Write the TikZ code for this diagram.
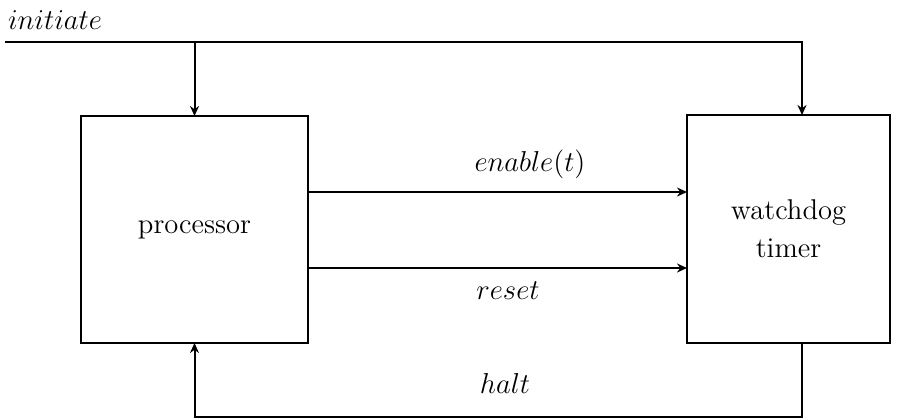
\documentclass[tikz,border=0pt]{standalone}
\usetikzlibrary{arrows.meta,calc}
\begin{document}
\begin{tikzpicture}[x=0.5pt,y=-0.5pt,
  line width=1pt,
  box/.style={draw,rectangle,inner sep=0pt,outer sep=0pt,align=center,font=\fontsize{14.3}{19}\selectfont},
  arr/.style={-{Stealth[length=5pt,width=4.5pt]}},
  lbl/.style={inner sep=0pt,font=\fontsize{14.3}{19}\selectfont}]
\useasboundingbox (0,0) rectangle (912,419);
\node[box,minimum width=113.5pt,minimum height=113.5pt] (proc) at (194.5,229.5) {processor};
\node[box,minimum width=101.5pt,minimum height=114pt] (wd) at (788.5,229) {watchdog\\timer};
\coordinate (i0) at (5,42);
\coordinate (wdin) at (802,115);
\coordinate (wdout) at (802,343);
\coordinate (hb) at (802,417);
\draw[arr] (i0) -| (wdin);
\draw[arr] (proc.north |- i0) -- (proc.north);
\draw[arr] (proc.east |- 0,192) -- (wd.west |- 0,192);
\draw[arr] (proc.east |- 0,268) -- (wd.west |- 0,268);
\draw[arr] (wdout) -- (hb) -| (proc.south);
\node[lbl] (tinit) at (55,20) {$initiate$};
\node[lbl] (ten) at (530,164) {$enable(t)$};
\node[lbl] (tre) at (508,291) {$reset$};
\node[lbl] (tha) at (505,383) {$halt$};
\end{tikzpicture}
\end{document}
